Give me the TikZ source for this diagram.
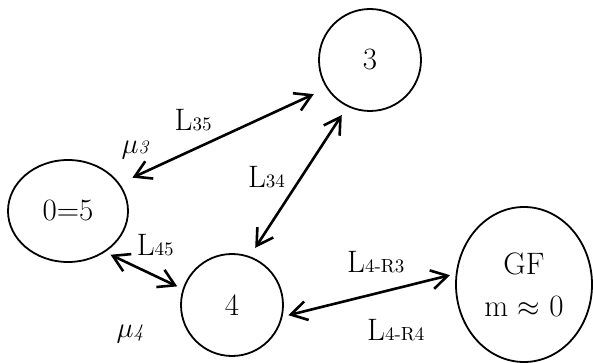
\documentclass[tikz,border=0pt]{standalone}
\usepackage{amsmath}
\usepackage{tikz}
\usetikzlibrary{arrows.meta}
\usetikzlibrary{positioning}
\usetikzlibrary{shapes}
\newcommand{\subsz}{\fontsize{9.5}{11}\selectfont}
\tikzset{
    site/.style={
           circle,
           draw=black, line width=0.9pt,
           minimum size=51pt,
           inner sep=0pt,
           text centered,
           },
    site2/.style={
           ellipse,
           draw=black, line width=0.9pt,
           inner sep=0pt,
           text centered,
           },
    link/.style={
           <->, line width=1.3pt,
           shorten <=4pt, shorten >=4pt,
           },
    tag/.style={
           inner sep=0pt,
           },
}

\begin{document}
\begin{tikzpicture}
[
>={Straight Barb[length=8pt,width=9.5pt]},
font=\fontsize{15.5}{18}\selectfont
]
 \useasboundingbox (-34pt,-76pt) rectangle (262.5pt,105.5pt);

 % NODE 0=5
 \node[site2,
 minimum width=60pt,
 minimum height=51pt] (ZERO)
  {0=5};

 % NODE 3, up right of 0=5
 \node[site,
 node distance=151pt,   % distance to ZERO
 right of=ZERO,
 yshift=75.5pt
 ] (THREE)
  {3};

 % NODE 4, down right of 0=5
 \node[site,
 node distance=82pt,
 right of=ZERO,
 yshift=-47pt
 ] (FOUR)
  {4};

 % NODE GF
 \node[site2,
 minimum width=68pt,
 minimum height=77.5pt,
 align=center,
 node distance=146pt,   % distance to FOUR
 right of=FOUR,
 yshift=10.25pt
 ] (GF)
  {GF\\[3pt] m $\approx$ 0};

 \node[tag,
 node distance=51pt,
 left of=FOUR,
 yshift=-14.5pt] (MU4)
  {$\mu${\subsz\itshape 4}};

 % the links with their labels
 \path
 (ZERO.28)
 edge[link, shorten <=7pt, shorten >=7pt]
  node[tag, xshift=-15pt, yshift=8pt] (L35) {L{\subsz 35}}
  node[tag, xshift=-44pt, yshift=-7pt] (MU3) {$\mu${\subsz\itshape 3}}
  (THREE.213)
 (THREE.244)
 edge[link, shorten <=5pt, shorten >=5pt]
  node[tag, xshift=-16pt, yshift=2pt] (L34) {L{\subsz 34}}
  (FOUR.70)
 (ZERO.-48)
 edge[link, shorten <=3pt, shorten >=3pt]
  node[tag, xshift=5.7pt, yshift=12.8pt] (L45) {L{\subsz 45}}
  (FOUR.162.5)
 (FOUR.-13)
 edge[link, shorten <=3pt, shorten >=3pt]
  node[tag, xshift=3.3pt, yshift=16.3pt] (L4R3) {L{\subsz 4-R3}}
  node[tag, xshift=13.3pt, yshift=-17.3pt] (L4R4) {L{\subsz 4-R4}}
  (GF.171.5)
 ;

\end{tikzpicture}
\end{document}
